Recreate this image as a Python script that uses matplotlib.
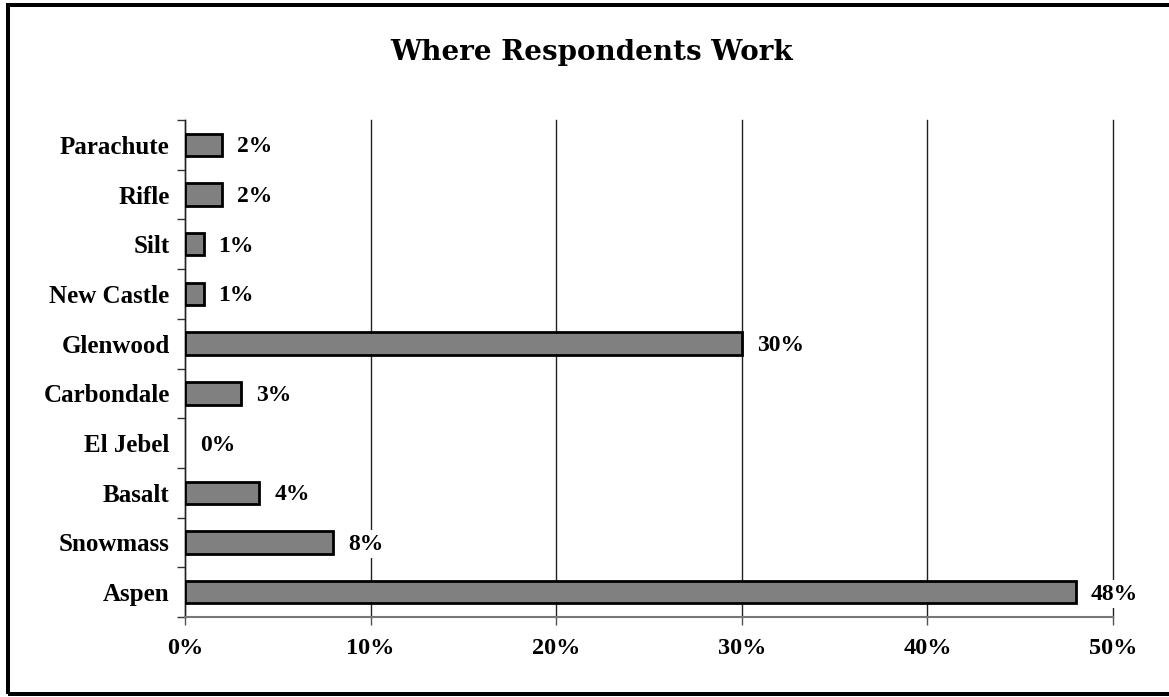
import matplotlib
matplotlib.use("Agg")
import matplotlib.pyplot as plt
from matplotlib.patches import Rectangle
from matplotlib.ticker import FuncFormatter, FixedLocator
import numpy as np

# Data (bottom to top)
categories = ["Aspen", "Snowmass", "Basalt", "El Jebel", "Carbondale",
              "Glenwood", "New Castle", "Silt", "Rifle", "Parachute"]
values = [48, 8, 4, 0, 3, 30, 1, 1, 2, 2]
value_labels = ["48%", "8%", "4%", "0%", "3%", "30%", "1%", "1%", "2%", "2%"]
x_ticks = [0, 10, 20, 30, 40, 50]
title = "Where Respondents Work"

W, H, DPI = 1169, 697, 100
fig = plt.figure(figsize=(W / DPI, H / DPI), dpi=DPI)
fig.patch.set_facecolor("white")

serif = ["Liberation Serif", "DejaVu Serif"]

ax = fig.add_axes([185 / W, 1 - 617 / H, (1113 - 185) / W, (617 - 120) / H])
y = np.arange(len(categories))
bars = ax.barh(y, values, height=0.45, color="#808080", edgecolor="black",
               linewidth=2.0, zorder=3)
for b, v in zip(bars, values):
    if v == 0:
        b.set_visible(False)

ax.set_xlim(0, 50)
ax.set_ylim(-0.5, len(categories) - 0.5)

ax.xaxis.set_major_locator(FixedLocator(x_ticks))
ax.xaxis.set_major_formatter(FuncFormatter(lambda v, p: f"{int(v)}%"))
ax.grid(axis="x", color="#222222", linewidth=1.0, zorder=0)
ax.set_axisbelow(True)
for gl in ax.get_xgridlines():
    gl.set_clip_on(False)

# y ticks at category boundaries, labels at centers
ax.set_yticks(np.arange(-0.5, len(categories), 1.0))
ax.set_yticklabels([])
ax.set_yticks(y, minor=True)
ax.set_yticklabels(categories, minor=True)
ax.tick_params(axis="y", which="minor", length=0, pad=11)
ax.tick_params(axis="y", which="major", length=6, width=1, color="#333333")
ax.tick_params(axis="x", length=6, width=1, color="#555555", pad=9)

for lab in ax.get_yticklabels(minor=True):
    lab.set_fontfamily(serif)
    lab.set_fontweight("bold")
    lab.set_fontsize(18)
for lab in ax.get_xticklabels():
    lab.set_fontfamily(serif)
    lab.set_fontweight("bold")
    lab.set_fontsize(17.5)

for s in ["top", "right"]:
    ax.spines[s].set_visible(False)
ax.spines["left"].set_color("#222222")
ax.spines["left"].set_linewidth(1)
ax.spines["bottom"].set_color("#777777")
ax.spines["bottom"].set_linewidth(1.5)

for yi, v, t in zip(y, values, value_labels):
    ax.annotate(t, xy=(v, yi), xytext=(15, -2), textcoords="offset pixels",
                ha="left", va="center", fontsize=17, fontweight="bold",
                fontfamily=serif, zorder=4,
                bbox=dict(boxstyle="square,pad=0.15", facecolor="white",
                          edgecolor="none"))

fig.text(592 / W, 1 - 53 / H, title, ha="center", va="center",
         fontsize=20, fontweight="bold", fontfamily=["DejaVu Serif"])

# Outer border
fig.add_artist(Rectangle((7.5 / W, 1 - 694 / H), (1180 - 7.5) / W, (694 - 4.5) / H,
                         transform=fig.transFigure, fill=False,
                         edgecolor="black", linewidth=4 * 72 / DPI))

fig.savefig("out.png", dpi=DPI, facecolor="white")
